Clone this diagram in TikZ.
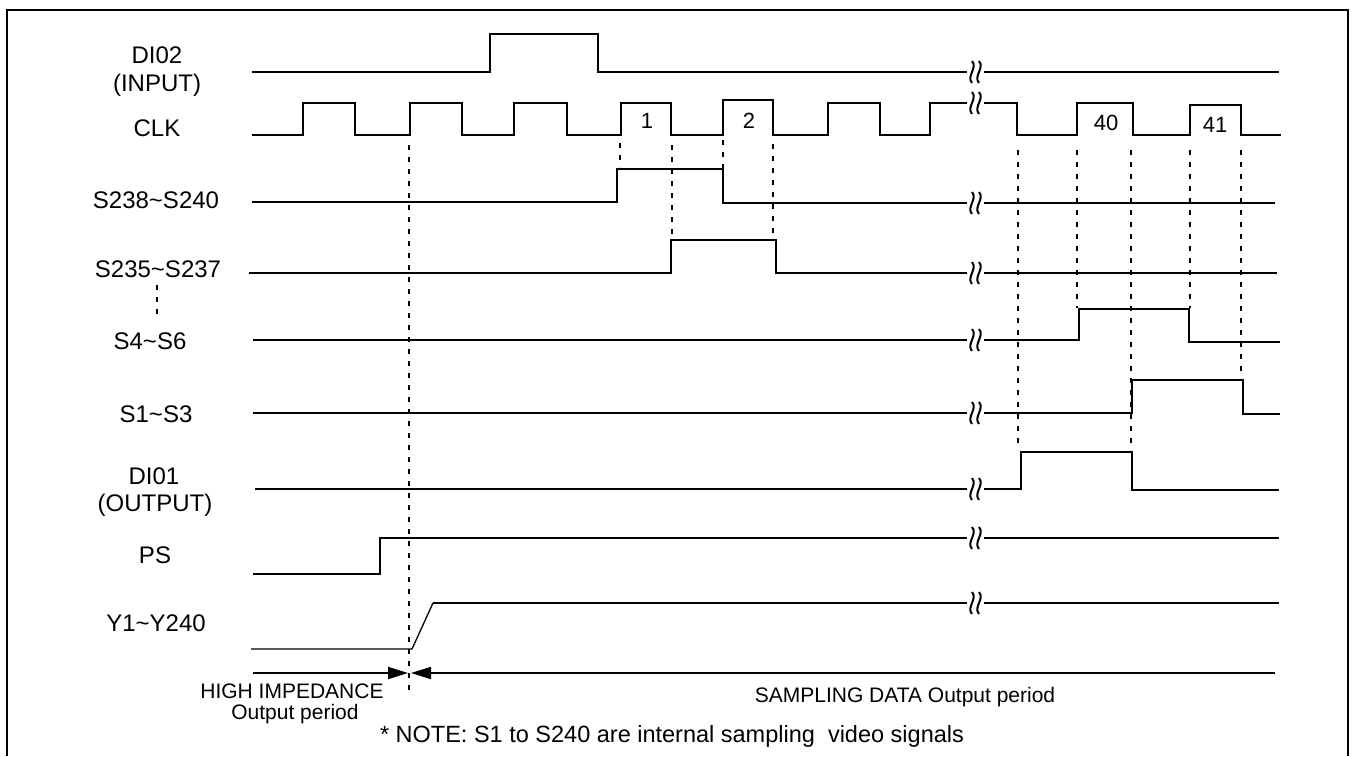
\documentclass[tikz,border=0pt]{standalone}
\usepackage{fontspec}
\setmainfont{Liberation Sans}
\usetikzlibrary{arrows.meta}
\tikzset{
  wave/.style={line width=2pt, line join=miter},
  thinwave/.style={line width=1.3pt},
  guide/.style={line width=1.5pt, dash pattern=on 5pt off 7pt},
  lbl/.style={anchor=base, inner sep=0pt, font=\fontsize{24}{28}\selectfont},
  num/.style={anchor=base, inner sep=0pt, font=\fontsize{22}{26}\selectfont},
  small/.style={anchor=base, inner sep=0pt, font=\fontsize{21}{24}\selectfont},
  note/.style={anchor=base, inner sep=0pt, font=\fontsize{23.5}{27}\selectfont},
  arr/.style={line width=2pt, -{Triangle[length=20pt,width=12pt]}},
  brk/.pic={
    \draw[line width=2pt] (-3.5,-11) .. controls (2.5,-4) and (-9.5,4) .. (-3.5,11);
    \draw[line width=2pt] (3.5,-11) .. controls (9.5,-4) and (-2.5,4) .. (3.5,11);
  }
}
\begin{document}
\begin{tikzpicture}[x=1pt,y=-1pt]
\useasboundingbox (0,0) rectangle (1356,756);
% frame
\draw[line width=2.5pt] (7,756) -- (7,10) -- (1348,10) -- (1348,756);

% labels
\node[lbl] (ldi02) at (157,63) {DI02};
\node[lbl] (linput) at (157,91) {(INPUT)};
\node[lbl] (lclk) at (157,136) {CLK};
\node[lbl] (ls238) at (156,208) {S238\char"7E S240};
\node[lbl] (ls235) at (158,277) {S235\char"7E S237};
\node[lbl] (ls4) at (150,349) {S4\char"7E S6};
\node[lbl] (ls1) at (156,422) {S1\char"7E S3};
\node[lbl] (ldi01) at (154,484) {DI01};
\node[lbl] (loutput) at (155,511) {(OUTPUT)};
\node[lbl] (lps) at (155,563) {PS};
\node[lbl] (ly) at (156,631) {Y1\char"7E Y240};
\draw[guide] (157,285) -- (157,320);

% clock numbers
\node[num] (n1) at (647,128) {1};
\node[num] (n2) at (749,128) {2};
\node[num] (n40) at (1106,130) {40};
\node[num] (n41) at (1215,132) {41};

% DI02
\draw[wave] (252,72) -- (490,72) -- (490,34) -- (598,34) -- (598,72) -- (967,72);
\draw[wave] (984,72) -- (1279,72);
\pic at (975.5,72) {brk};

% CLK
\draw[wave] (252,135) -- (303,135) -- (303,103) -- (355,103) -- (355,135) -- (410,135) -- (410,103) -- (462,103) -- (462,135) -- (514,135) -- (514,103) -- (567,103) -- (567,135) -- (621,135) -- (621,103) -- (671,103) -- (671,135) -- (723,135) -- (723,100) -- (773,100) -- (773,135) -- (828,135) -- (828,103) -- (880,103) -- (880,135) -- (930,135) -- (930,103) -- (967,103);
\draw[wave] (984,103) -- (1017,103) -- (1017,135) -- (1077,135) -- (1077,103) -- (1133,103) -- (1133,135) -- (1190,135) -- (1190,105) -- (1241,105) -- (1241,135) -- (1281,135);
\pic at (975.5,103) {brk};

% S238~S240
\draw[wave] (252,202) -- (617,202) -- (617,169) -- (723,169) -- (723,203) -- (967,203);
\draw[wave] (984,203) -- (1275,203);
\pic at (975.5,203) {brk};

% S235~S237
\draw[wave] (249,273) -- (671,273) -- (671,240) -- (776,240) -- (776,273) -- (967,273);
\draw[wave] (984,273) -- (1277,273);
\pic at (975.5,273) {brk};

% S4~S6
\draw[wave] (253,340) -- (967,340);
\draw[wave] (984,340) -- (1079,340) -- (1079,309) -- (1189,309) -- (1189,342) -- (1280,342);
\pic at (975.5,340) {brk};

% S1~S3
\draw[wave] (253,413) -- (967,413);
\draw[wave] (984,413) -- (1132,413) -- (1132,380) -- (1243,380) -- (1243,414) -- (1280,414);
\pic at (975.5,413) {brk};

% DI01
\draw[wave] (255,489) -- (967,489);
\draw[wave] (984,489) -- (1021,489) -- (1021,452) -- (1132,452) -- (1132,490) -- (1279,490);
\pic at (975.5,489) {brk};

% PS
\draw[wave] (253,574) -- (380,574) -- (380,538) -- (967,538);
\draw[wave] (984,538) -- (1279,538);
\pic at (975.5,538) {brk};

% Y1~Y240
\draw[thinwave] (251,649) -- (412,649) -- (433,603);
\draw[wave] (433,603) -- (967,603);
\draw[wave] (984,603) -- (1279,603);
\pic at (975.5,603) {brk};

% guide lines
\draw[guide] (409,145) -- (409,695);
\draw[guide] (620,143) -- (620,167);
\draw[guide] (672,145) -- (672,240);
\draw[guide] (723,140) -- (723,169);
\draw[guide] (773,144) -- (773,238);
\draw[guide] (1018,150) -- (1018,450);
\draw[guide] (1077,150) -- (1077,308);
\draw[guide] (1131,150) -- (1131,450);
\draw[guide] (1190,150) -- (1190,308);
\draw[guide] (1241,150) -- (1241,378);

% period arrows
\coordinate (a1) at (253,673);
\coordinate (a2) at (408,673);
\coordinate (b1) at (1275,673);
\coordinate (b2) at (411,673);
\draw[arr] (a1) -- (a2);
\draw[arr] (b1) -- (b2);

\node[small] (hz1) at (292,698) {HIGH IMPEDANCE};
\node[small] (hz2) at (295,719) {Output period};
\node[small] (samp) at (905,702) {SAMPLING DATA Output period};
\node[note] (nt) at (672,742) {* NOTE: S1 to S240 are internal sampling\ \ video signals};
\end{tikzpicture}
\end{document}
